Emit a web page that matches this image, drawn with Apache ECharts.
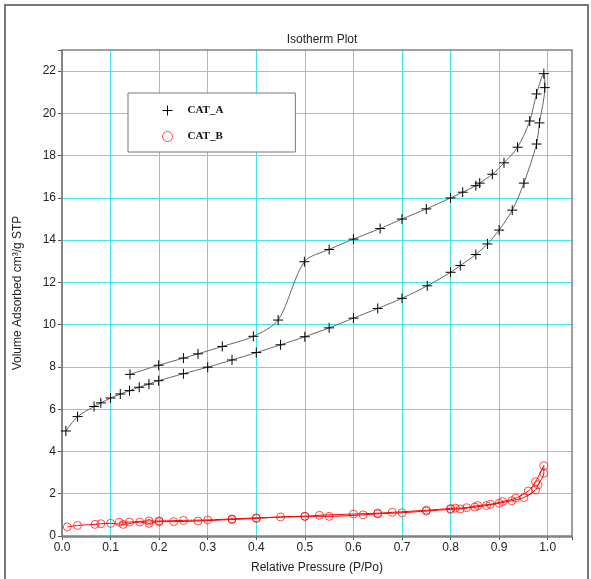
<!DOCTYPE html>
<html>
<head>
<meta charset="utf-8">
<script src="https://cdn.jsdelivr.net/npm/echarts@6/dist/echarts.min.js"></script>
<style>
  html, body { margin: 0; padding: 0; background: #fff; }
  #main { width: 591px; height: 579px; }
</style>
</head>
<body>
<div id="main"></div>
<script>
/*
 * isotherm data
 */
// CAT_A adsorption branch
var catA_adsP = [0.008, 0.032, 0.066, 0.080, 0.100, 0.120, 0.139, 0.159, 0.179, 0.199,
  0.250, 0.300, 0.350, 0.400, 0.450, 0.500, 0.550, 0.600, 0.650, 0.700, 0.752,
  0.800, 0.820, 0.852, 0.876, 0.900, 0.927, 0.951, 0.977, 0.983, 0.994, 0.992];
var catA_adsV = [4.97, 5.65, 6.13, 6.30, 6.53, 6.72, 6.88, 7.04, 7.19, 7.35,
  7.68, 7.99, 8.33, 8.68, 9.05, 9.43, 9.85, 10.31, 10.77, 11.25, 11.84,
  12.48, 12.80, 13.32, 13.82, 14.48, 15.42, 16.70, 18.55, 19.55, 21.22, 21.88];
// CAT_A desorption branch
var catA_desP = [0.977, 0.963, 0.938, 0.910, 0.886, 0.860, 0.852, 0.825, 0.800, 0.750,
  0.700, 0.655, 0.600, 0.550, 0.499, 0.445, 0.394, 0.330, 0.280, 0.250, 0.199, 0.140];
var catA_desV = [20.92, 19.64, 18.40, 17.66, 17.12, 16.70, 16.58, 16.27, 16.00, 15.48,
  15.00, 14.55, 14.05, 13.56, 12.98, 10.22, 9.45, 8.97, 8.62, 8.42, 8.08, 7.65];

// CAT_B adsorption branch
var catB_adsP = [0.011, 0.032, 0.068, 0.080, 0.100, 0.126, 0.160, 0.179, 0.200, 0.230,
  0.280, 0.350, 0.400, 0.450, 0.500, 0.550, 0.620, 0.650, 0.700, 0.750, 0.800,
  0.820, 0.850, 0.874, 0.900, 0.926, 0.951, 0.975, 0.980, 0.992, 0.992];
var catB_adsV = [0.43, 0.50, 0.55, 0.58, 0.60, 0.55, 0.66, 0.60, 0.68, 0.68,
  0.71, 0.78, 0.83, 0.90, 0.93, 0.93, 1.00, 1.05, 1.10, 1.18, 1.26,
  1.28, 1.37, 1.44, 1.55, 1.67, 1.82, 2.18, 2.42, 2.97, 3.33];
// CAT_B desorption branch
var catB_desP = [0.975, 0.960, 0.934, 0.907, 0.882, 0.856, 0.833, 0.810, 0.800, 0.750,
  0.680, 0.650, 0.600, 0.530, 0.500, 0.400, 0.350, 0.300, 0.250, 0.200, 0.179, 0.139, 0.118];
var catB_desV = [2.57, 2.13, 1.79, 1.63, 1.50, 1.44, 1.34, 1.32, 1.30, 1.22,
  1.12, 1.08, 1.04, 0.98, 0.93, 0.86, 0.81, 0.76, 0.74, 0.71, 0.71, 0.66, 0.65];

var seriesNames = ['CAT_A', 'CAT_B'];

var pairs = function (px, vy) {
  var res = [];
  for (var i = 0; i < px.length; i++) {
    res.push([px[i], vy[i]]);
  }
  return res;
};

var plusPath = 'path://M0,5L10,5M5,0L5,10';
var gridCyan = '#40e6f0';

var chart = echarts.init(document.getElementById('main'));
var option = {
  animation: false,
  backgroundColor: '#fff',
  textStyle: { fontFamily: 'Liberation Sans' },
  graphic: [{
    type: 'rect',
    shape: { x: 5, y: 5, width: 583, height: 600 },
    style: { fill: 'none', stroke: '#777', lineWidth: 2 },
    z: 0
  }, {
    // plot frame, drawn over the grid lines
    type: 'rect',
    shape: { x: 62, y: 50, width: 510, height: 487 },
    style: { fill: 'none', stroke: '#808080', lineWidth: 1.5 },
    z: 1
  }],
  title: {
    text: 'Isotherm Plot',
    left: 317,
    top: 29,
    textAlign: 'center',
    textStyle: { fontSize: 12, fontWeight: 'normal', color: '#222', fontFamily: 'Liberation Sans' }
  },
  legend: {
    orient: 'vertical',
    left: 128,
    top: 93,
    padding: [10, 72, 8, 32],
    itemGap: 11,
    itemWidth: 10,
    itemHeight: 10,
    backgroundColor: '#fff',
    borderColor: '#777',
    borderWidth: 1,
    textStyle: {
      fontFamily: 'Liberation Serif',
      fontWeight: 'bold',
      fontSize: 11,
      color: '#111',
      padding: [0, 0, 0, 10]
    },
    data: [
      { name: 'CAT_A', icon: plusPath,
        itemStyle: { color: 'none', borderColor: '#000', borderWidth: 1 } },
      { name: 'CAT_B', icon: 'circle',
        itemStyle: { color: 'none', borderColor: 'rgba(255,0,0,0.7)', borderWidth: 1 } }
    ]
  },
  grid: {
    left: 62,
    right: 19,
    top: 50,
    bottom: 42
  },
  xAxis: {
    type: 'value',
    min: 0,
    max: 1.05,
    interval: 0.1,
    name: 'Relative Pressure (P/Po)',
    nameLocation: 'middle',
    nameGap: 26,
    nameTextStyle: { fontSize: 12, color: '#222' },
    axisLine: { lineStyle: { color: '#808080', width: 1.5 } },
    axisTick: { show: true, length: 4, lineStyle: { color: '#555' } },
    axisLabel: {
      fontSize: 12,
      color: '#222',
      margin: 6,
      formatter: function (v) {
        return v > 1.001 ? '' : v.toFixed(1);
      }
    },
    splitLine: { show: true, showMaxLine: false, lineStyle: { color: gridCyan, width: 1 } }
  },
  yAxis: {
    type: 'value',
    min: 0,
    max: 23,
    interval: 2,
    name: 'Volume Adsorbed cm\u00b3/g STP',
    nameLocation: 'middle',
    nameGap: 38,
    nameTextStyle: { fontSize: 12, color: '#222' },
    axisLine: { show: true, lineStyle: { color: '#808080', width: 1.5 } },
    axisTick: { show: true, length: 4, lineStyle: { color: '#555' } },
    axisLabel: {
      fontSize: 12,
      color: '#222',
      margin: 6,
      formatter: function (v) {
        return v % 2 ? '' : v;
      }
    },
    splitLine: { show: true, showMaxLine: false, lineStyle: { color: gridCyan, width: 1 } }
  },
  series: [{
    name: seriesNames[0],
    type: 'line',
    smooth: 0.3,
    data: pairs(catA_adsP.concat(catA_desP), catA_adsV.concat(catA_desV)),
    symbol: plusPath,
    symbolSize: 10,
    showSymbol: true,
    showAllSymbol: true,
    itemStyle: { color: 'none', borderColor: '#000', borderWidth: 1 },
    lineStyle: { color: '#666', width: 1 },
    z: 3
  }, {
    name: seriesNames[1],
    type: 'line',
    smooth: 0.3,
    data: pairs(catB_adsP.concat(catB_desP), catB_adsV.concat(catB_desV)),
    symbol: 'circle',
    symbolSize: 8,
    showSymbol: true,
    showAllSymbol: true,
    itemStyle: { color: 'none', borderColor: 'rgba(255,0,0,0.7)', borderWidth: 1 },
    lineStyle: { color: '#f00', width: 1 },
    z: 2
  }]
};
chart.setOption(option);
</script>
</body>
</html>
